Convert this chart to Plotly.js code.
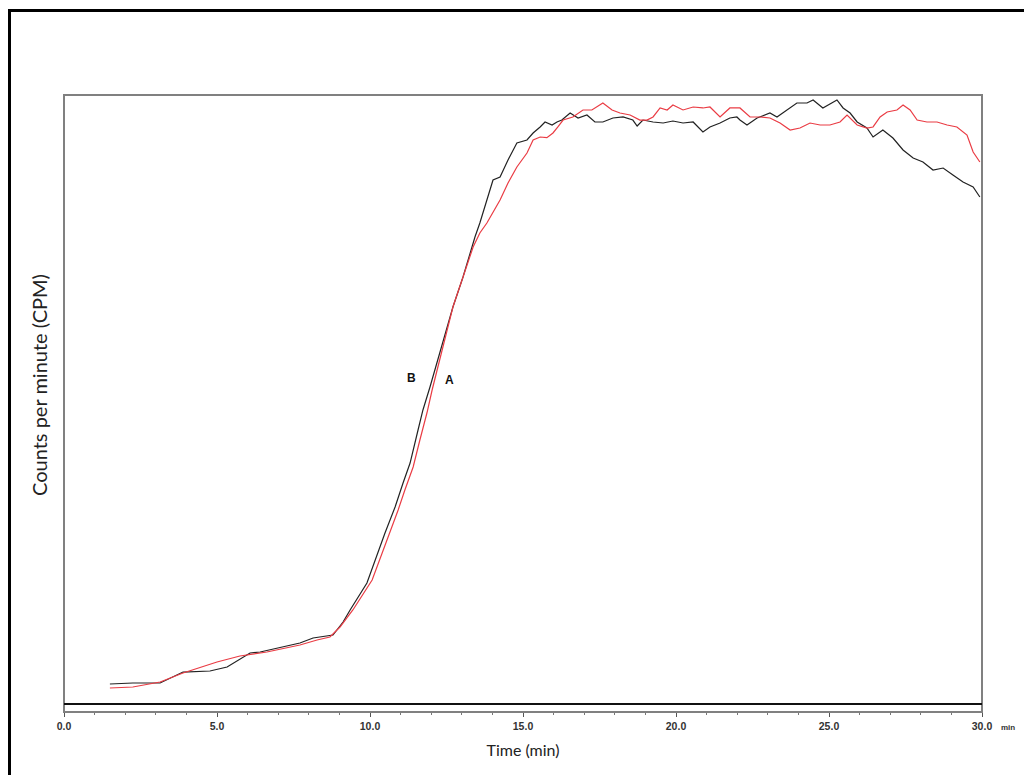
<!DOCTYPE html>
<html>
<head>
<meta charset="utf-8">
<script src="https://cdn.plot.ly/plotly-3.0.1.min.js"></script>
<style>
  html, body { margin: 0; padding: 0; background: #fff; }
  #chart { width: 1024px; height: 775px; position: absolute; left: 0; top: 0; }
  #frame { position: absolute; left: 8px; top: 9px; width: 1100px; height: 900px;
           border-left: 3px solid #000; border-top: 3px solid #000; pointer-events: none; }
</style>
</head>
<body>
<div id="chart"></div>
<div id="frame"></div>
<script>
// Curve B (black)
const timeB = [1.50, 2.25, 3.14, 3.89, 4.77, 5.33, 6.08, 6.41, 7.71, 8.14, 8.79, 9.12, 9.35, 9.90,
  10.49, 10.82, 11.08, 11.31, 11.57, 11.73, 11.96, 12.71, 13.04, 13.33, 13.43, 13.59, 14.02, 14.25,
  14.51, 14.80, 15.13, 15.33, 15.46, 15.56, 15.72, 15.95, 16.11, 16.27, 16.54, 16.80, 17.09, 17.35,
  17.61, 17.94, 18.27, 18.59, 18.73, 18.92, 19.25, 19.58, 19.90, 20.23, 20.56, 20.88, 21.11, 21.44,
  21.76, 21.99, 22.09, 22.32, 22.65, 23.07, 23.30, 23.63, 23.95, 24.28, 24.48, 24.80, 25.26, 25.46,
  25.69, 25.92, 26.24, 26.44, 26.76, 27.09, 27.42, 27.75, 28.07, 28.40, 28.73, 29.05, 29.38, 29.71, 29.93];
const cpmB = [3.28, 3.45, 3.45, 5.25, 5.42, 6.08, 8.37, 8.54, 10.02, 10.84, 11.33, 13.46, 15.44, 19.87,
  28.08, 32.35, 36.29, 39.57, 44.99, 48.28, 52.05, 65.19, 70.11, 75.04, 76.68, 78.98, 86.04, 86.54,
  89.33, 92.12, 92.61, 93.76, 94.25, 94.75, 95.57, 95.07, 95.57, 95.89, 97.04, 96.22, 96.72, 95.57,
  95.57, 96.22, 96.39, 95.89, 94.91, 95.89, 95.57, 95.40, 95.73, 95.40, 95.57, 93.92, 94.75, 95.40,
  96.22, 96.39, 95.89, 95.07, 96.22, 97.04, 96.39, 97.54, 98.69, 98.69, 99.18, 97.87, 99.18, 97.87,
  97.04, 95.57, 94.58, 93.10, 94.25, 92.94, 90.97, 89.66, 89.00, 87.68, 88.01, 86.86, 85.71, 84.89, 83.25];

// Curve A (red)
const timeA = [1.50, 2.25, 3.14, 3.89, 5.00, 5.75, 6.63, 7.71, 8.27, 8.69, 9.02, 9.44, 10.07, 10.56,
  10.92, 11.14, 11.41, 11.63, 11.86, 12.03, 12.71, 13.04, 13.37, 13.59, 13.82, 14.25, 14.51, 14.80,
  15.13, 15.33, 15.46, 15.56, 15.78, 15.98, 16.14, 16.31, 16.63, 16.96, 17.25, 17.61, 17.91, 18.17,
  18.50, 18.82, 19.05, 19.25, 19.48, 19.71, 19.90, 20.23, 20.56, 20.88, 21.11, 21.44, 21.76, 22.09,
  22.42, 22.75, 23.07, 23.40, 23.73, 24.05, 24.38, 24.71, 25.03, 25.36, 25.59, 25.92, 26.24, 26.44,
  26.67, 26.90, 27.22, 27.42, 27.65, 27.88, 28.20, 28.53, 28.86, 29.18, 29.51, 29.71, 29.93];
const cpmA = [2.63, 2.79, 3.61, 5.09, 6.90, 7.88, 8.54, 9.69, 10.51, 11.00, 12.64, 15.44, 20.36, 26.93,
  31.86, 35.14, 38.92, 43.35, 47.78, 51.56, 65.19, 70.11, 75.04, 77.34, 78.98, 82.76, 85.55, 88.18,
  90.48, 92.61, 92.94, 93.10, 93.00, 93.76, 94.75, 95.89, 96.39, 97.54, 97.54, 98.69, 97.54, 97.04,
  96.72, 95.89, 95.89, 96.39, 97.87, 97.54, 98.36, 97.54, 98.03, 97.87, 98.03, 96.39, 97.87, 97.87,
  96.39, 96.39, 96.22, 95.40, 94.25, 94.58, 95.40, 95.07, 95.07, 95.57, 96.72, 95.07, 94.58, 94.75,
  96.39, 97.21, 97.54, 98.36, 97.54, 95.89, 95.57, 95.57, 95.07, 94.75, 93.43, 90.64, 89.00];

const xTickVals = [0, 5, 10, 15, 20, 25, 30];
const xTickText = ["0.0", "5.0", "10.0", "15.0", "20.0", "25.0", "30.0"];

const traces = [
  { x: timeB, y: cpmB, name: "B", mode: "lines", line: { color: "#222222", width: 1.2 } },
  { x: timeA, y: cpmA, name: "A", mode: "lines", line: { color: "#ea3c44", width: 1.2 } }
];

const layout = {
  width: 1024, height: 775,
  margin: { l: 64, r: 42, t: 95, b: 63 },
  paper_bgcolor: "rgba(0,0,0,0)",
  plot_bgcolor: "#ffffff",
  showlegend: false,
  xaxis: {
    range: [0, 30], showgrid: false, zeroline: false,
    showline: true, linecolor: "#666666", linewidth: 1,
    tickmode: "array", tickvals: xTickVals, ticktext: xTickText,
    ticks: "outside", ticklen: 4, tickcolor: "#555555", tickwidth: 1,
    minor: { dtick: 1, ticks: "outside", ticklen: 2, tickcolor: "#777777", showgrid: false },
    tickfont: { family: "Liberation Sans, Arial, sans-serif", size: 10.5, color: "#333333", weight: "bold" },
    title: { text: "Time (min)", font: { family: "Lato, sans-serif", size: 16, color: "#222222" }, standoff: 14 }
  },
  yaxis: {
    range: [-1.314, 100], showgrid: false, zeroline: false, showline: false,
    showticklabels: false, ticks: ""
  },
  shapes: [
    { type: "rect", xref: "paper", yref: "paper", x0: 0, x1: 1, y0: 0, y1: 1,
      line: { color: "#808080", width: 2 } },
    { type: "line", xref: "paper", yref: "y", x0: 0, x1: 1, y0: 0, y1: 0,
      line: { color: "#111111", width: 2 } }
  ],
  annotations: [
    { x: 11.37, y: 53.5, xref: "x", yref: "y", text: "B", showarrow: false,
      font: { family: "Liberation Sans, Arial, sans-serif", size: 12, color: "#111111", weight: "bold" } },
    { x: 12.61, y: 53.2, xref: "x", yref: "y", text: "A", showarrow: false,
      font: { family: "Liberation Sans, Arial, sans-serif", size: 12, color: "#111111", weight: "bold" } },
    { x: 1, y: 0, xref: "paper", yref: "paper", xanchor: "left", yanchor: "middle",
      xshift: 17, yshift: -15, text: "min", showarrow: false,
      font: { family: "Liberation Sans, Arial, sans-serif", size: 8, color: "#333333", weight: "bold" } },
    { x: 0, y: 0.53, xref: "paper", yref: "paper", xanchor: "center", yanchor: "middle",
      xshift: -25, text: "Counts per minute (CPM)", textangle: -90, showarrow: false,
      font: { family: "Lato, sans-serif", size: 20, color: "#222222" } }
  ]
};

Plotly.newPlot("chart", traces, layout, { staticPlot: true, displayModeBar: false });
</script>
</body>
</html>
